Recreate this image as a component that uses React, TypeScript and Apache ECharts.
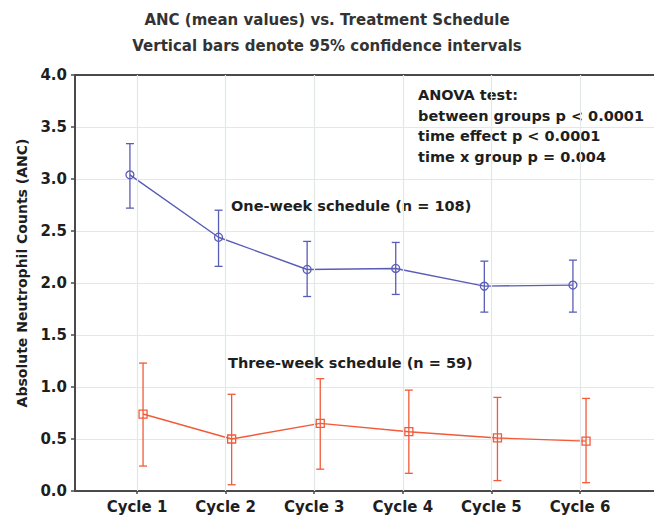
import React, { useEffect, useRef } from "react";
import * as echarts from "echarts";

const cycles = ["Cycle 1", "Cycle 2", "Cycle 3", "Cycle 4", "Cycle 5", "Cycle 6"];
const oneWeekMean = [3.04, 2.44, 2.13, 2.14, 1.97, 1.98];
const oneWeekLow = [2.72, 2.16, 1.87, 1.89, 1.72, 1.72];
const oneWeekHigh = [3.34, 2.70, 2.40, 2.39, 2.21, 2.22];
const threeWeekMean = [0.74, 0.50, 0.65, 0.57, 0.51, 0.48];
const threeWeekLow = [0.24, 0.06, 0.21, 0.17, 0.10, 0.08];
const threeWeekHigh = [1.23, 0.93, 1.08, 0.97, 0.90, 0.89];
const yTicks = [0, 0.5, 1, 1.5, 2, 2.5, 3, 3.5, 4];
const titleLines = ["ANC (mean values) vs. Treatment Schedule", "Vertical bars denote 95% confidence intervals"];
const anovaLines = ["ANOVA test:", "between groups p < 0.0001", "time effect p < 0.0001", "time x group p = 0.004"];
const oneWeekLabel = "One-week schedule (n = 108)";
const threeWeekLabel = "Three-week schedule (n = 59)";
const yName = "Absolute Neutrophil Counts (ANC)";

const BLUE = "#5a5db6";
const RED = "#f25a3a";
const FONT = "DejaVu Sans";
const TXT = "#1e1e1e";
const GRID = "#e2e7e7";
const AXIS = "#4a4a4a";
const BLUE_OFF = -0.08;
const RED_OFF = 0.068;

function errorBarSeries(low: number[], high: number[], off: number, color: string) {
  return {
    type: "custom",
    xAxisIndex: 0,
    yAxisIndex: 0,
    silent: true,
    z: 3,
    data: low.map((l, i) => [i + 1 + off, l, high[i]]),
    renderItem: (params: any, api: any) => {
      const x = api.value(0);
      const p1 = api.coord([x, api.value(1)]);
      const p2 = api.coord([x, api.value(2)]);
      const hw = 4;
      const style = { stroke: color, lineWidth: 1.3 };
      return {
        type: "group",
        children: [
          { type: "line", shape: { x1: p1[0], y1: p1[1], x2: p2[0], y2: p2[1] }, style },
          { type: "line", shape: { x1: p1[0] - hw, y1: p1[1], x2: p1[0] + hw, y2: p1[1] }, style },
          { type: "line", shape: { x1: p2[0] - hw, y1: p2[1], x2: p2[0] + hw, y2: p2[1] }, style },
        ],
      };
    },
  };
}

export default function App() {
  const ref = useRef<HTMLDivElement>(null);
  useEffect(() => {
    if (!ref.current) return;
    const chart = echarts.init(ref.current, null, { renderer: "svg" });
    const xVals = cycles.map((_, i) => i + 1);
    const textStyleBase = { fontFamily: FONT, fontWeight: "bold", fill: TXT };
    chart.setOption({
      animation: false,
      backgroundColor: "#ffffff",
      grid: { left: 75, top: 75, right: 0, bottom: 27, containLabel: false },
      xAxis: [
        {
          type: "value",
          min: 0.3,
          max: 6.835,
          axisLine: { show: true, onZero: false, lineStyle: { color: AXIS, width: 2 } },
          axisTick: { show: true, customValues: xVals, length: 3, lineStyle: { color: AXIS, width: 1.5 } },
          axisLabel: {
            customValues: xVals,
            formatter: (v: number) => cycles[Math.round(v) - 1] ?? "",
            fontFamily: FONT,
            fontWeight: "bold",
            fontSize: 15,
            color: TXT,
            margin: 8,
          },
          splitLine: { show: false },
        },
        {
          type: "value",
          position: "top",
          min: 0.3,
          max: 6.835,
          axisLine: { show: true, onZero: false, lineStyle: { color: AXIS, width: 2 } },
          axisTick: { show: false },
          axisLabel: { show: false },
          splitLine: { show: false },
        },
      ],
      yAxis: {
        type: "value",
        min: 0,
        max: 4,
        interval: 0.5,
        axisLine: { show: true, lineStyle: { color: AXIS, width: 2 } },
        axisTick: { show: true, length: 4, lineStyle: { color: AXIS, width: 1.5 } },
        axisLabel: {
          formatter: (v: number) => (yTicks.includes(v) ? v.toFixed(1) : ""),
          fontFamily: FONT,
          fontWeight: "bold",
          fontSize: 15,
          color: TXT,
          margin: 8,
        },
        splitLine: { show: true, lineStyle: { color: GRID, width: 1.2 } },
      },
      graphic: [
        ...titleLines.map((t, i) => ({
          type: "text",
          x: 327,
          y: 20 + i * 26,
          style: { ...textStyleBase, fill: "#333", text: t, fontSize: 15, textAlign: "center", textVerticalAlign: "middle" },
        })),
        ...anovaLines.map((t, i) => ({
          type: "text",
          x: 418,
          y: 95 + i * 20.6,
          style: { ...textStyleBase, text: t, fontSize: 14.5, textAlign: "left", textVerticalAlign: "middle" },
        })),
        {
          type: "text",
          x: 231,
          y: 206,
          style: { ...textStyleBase, text: oneWeekLabel, fontSize: 14.5, textAlign: "left", textVerticalAlign: "middle" },
        },
        {
          type: "text",
          x: 228,
          y: 363,
          style: { ...textStyleBase, text: threeWeekLabel, fontSize: 14.5, textAlign: "left", textVerticalAlign: "middle" },
        },
        {
          type: "text",
          x: 22,
          y: 273,
          rotation: Math.PI / 2,
          style: { ...textStyleBase, text: yName, fontSize: 14, textAlign: "center", textVerticalAlign: "middle" },
        },
      ],
      series: [
        {
          type: "line",
          data: [],
          z: 1,
          silent: true,
          markLine: {
            silent: true,
            symbol: "none",
            label: { show: false },
            lineStyle: { color: GRID, width: 1.2, type: "solid" },
            data: xVals.map((v) => ({ xAxis: v })),
          },
        },
        errorBarSeries(oneWeekLow, oneWeekHigh, BLUE_OFF, BLUE),
        errorBarSeries(threeWeekLow, threeWeekHigh, RED_OFF, RED),
        {
          type: "line",
          z: 4,
          data: oneWeekMean.map((v, i) => [i + 1 + BLUE_OFF, v]),
          symbol: "circle",
          symbolSize: 8,
          lineStyle: { color: BLUE, width: 1.4 },
          itemStyle: { color: "rgba(255,255,255,0)", borderColor: BLUE, borderWidth: 1.3 },
        },
        {
          type: "line",
          z: 4,
          data: threeWeekMean.map((v, i) => [i + 1 + RED_OFF, v]),
          symbol: "rect",
          symbolSize: 8,
          lineStyle: { color: RED, width: 1.4 },
          itemStyle: { color: "rgba(255,255,255,0)", borderColor: RED, borderWidth: 1.3 },
        },
      ],
    });
    return () => chart.dispose();
  }, []);
  return <div ref={ref} style={{ width: 654, height: 518, position: "fixed", left: 0, top: 0 }} />;
}
